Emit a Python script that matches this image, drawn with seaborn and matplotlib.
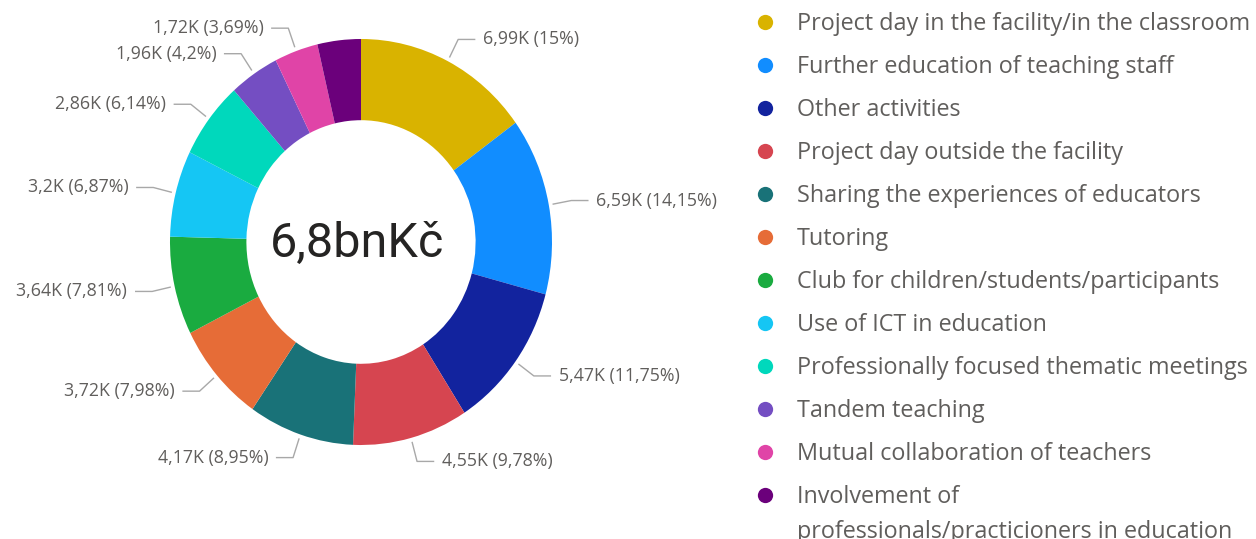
import matplotlib
matplotlib.use("Agg")
import matplotlib.pyplot as plt
from matplotlib.lines import Line2D
import numpy as np
import seaborn as sns

# data
categories = [
    "Project day in the facility/in the classroom",
    "Further education of teaching staff",
    "Other activities",
    "Project day outside the facility",
    "Sharing the experiences of educators",
    "Tutoring",
    "Club for children/students/participants",
    "Use of ICT in education",
    "Professionally focused thematic meetings",
    "Tandem teaching",
    "Mutual collaboration of teachers",
    "Involvement of\nprofessionals/practicioners in education",
]
values_k = [6.99, 6.59, 5.47, 4.55, 4.17, 3.72, 3.64, 3.20, 2.86, 1.96, 1.72, 1.71]
value_text = ["6,99K", "6,59K", "5,47K", "4,55K", "4,17K", "3,72K", "3,64K",
              "3,2K", "2,86K", "1,96K", "1,72K", None]
pct_text = ["15%", "14,15%", "11,75%", "9,78%", "8,95%", "7,98%", "7,81%",
            "6,87%", "6,14%", "4,2%", "3,69%", None]
center_text = "6,8bnKč"

colors = ["#D9B300", "#118DFF", "#12239E", "#D64550", "#197278", "#E66C37",
          "#1AAB40", "#15C6F4", "#00D8BC", "#744EC2", "#E044A7", "#6B007B"]
palette = sns.color_palette(colors)

sns.set_theme(style="white")
plt.rcParams["font.family"] = ["Open Sans", "DejaVu Sans"]

W, H = 1256, 539
fig = plt.figure(figsize=(W / 100, H / 100), dpi=100)
ax = fig.add_axes([0, 0, 1, 1])

wedges, _ = ax.pie(values_k, colors=palette, startangle=90, counterclock=False,
                   radius=1.0, wedgeprops=dict(width=0.4, linewidth=0))

# map data units to pixels: center (361, 242), rx 191 px, ry 203 px
cx, cy, rx, ry = 361, 242, 191, 203
ax.set_aspect("auto")
ax.set_xlim(-cx / rx, (W - cx) / rx)
ax.set_ylim(-(H - cy) / ry, cy / ry)
ax.axis("off")

gray = "#605E5C"
for w, v, p in zip(wedges, value_text, pct_text):
    if v is None:
        continue
    th = np.deg2rad((w.theta1 + w.theta2) / 2)
    x0, y0 = 1.02 * np.cos(th), 1.02 * np.sin(th)
    x1, y1 = 1.12 * np.cos(th), 1.12 * np.sin(th)
    side = 1 if x1 >= 0 else -1
    x2 = x1 + side * 0.09
    ax.plot([x0, x1, x2], [y0, y1, y1], color="#A8A8A8", lw=1.0, solid_capstyle="butt")
    ax.text(x2 + side * 0.04, y1, f"{v} ({p})", ha="left" if side > 0 else "right",
            va="center", fontsize=12.8, color=gray)

ax.text(-0.02, -0.01, center_text, ha="center", va="center", fontsize=35,
        color="#252423", family=["Roboto", "DejaVu Sans"])

# legend: the long last label wraps, with its marker on the first line
first_lines = [c.split("\n")[0] for c in categories]
handles = [Line2D([0], [0], marker="o", linestyle="none", markersize=11,
                  markerfacecolor=c, markeredgewidth=0) for c in palette]
leg = fig.legend(handles, first_lines, loc="upper left", bbox_to_anchor=(0.5998, 0.978),
                 frameon=False, fontsize=16.8, labelcolor=gray, handlelength=1.0,
                 handletextpad=0.87, labelspacing=0.815, borderpad=0, borderaxespad=0)

rest = categories[-1].split("\n")[1:]
if rest:
    fig.canvas.draw()
    bb = leg.get_texts()[-1].get_window_extent()
    fig.text(bb.x0 / W, (bb.y1 - 35) / H, "\n".join(rest), ha="left", va="top",
             fontsize=16.8, color=gray)

fig.savefig("out.png", dpi=100, facecolor="white")
